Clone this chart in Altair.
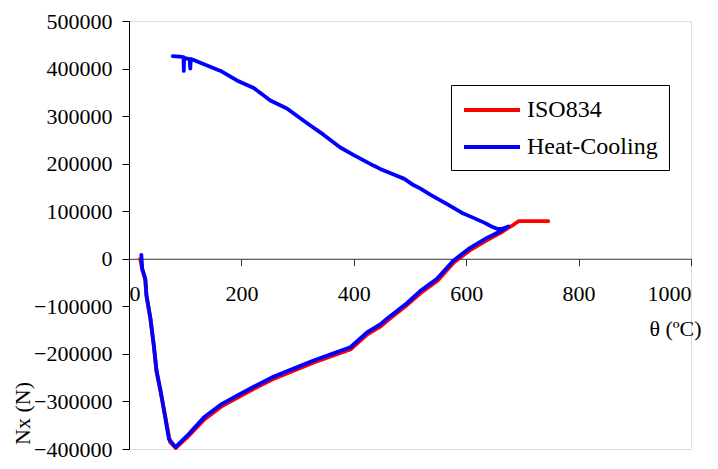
import altair as alt
import pandas as pd

# ---- data ----
iso_T = [20, 23.5, 29, 31, 38, 44, 49, 56, 63, 73, 83, 104, 134, 164, 199, 223, 258, 294,
         329, 365, 395, 424, 448, 460, 484, 495, 519, 549, 578, 608, 638, 662, 676, 684, 693, 746]
iso_N = [0, -22000, -44000, -78000, -126000, -182000, -238000, -279000, -322000, -385000,
         -398000, -375000, -338000, -311000, -288000, -273000, -252000, -235000, -218000,
         -203000, -190000, -159000, -142000, -130000, -107000, -97000, -72000, -46000, -8000,
         19000, 40000, 55000, 66000, 71500, 79000, 79000]

hc_T = [22, 23.5, 29, 31, 38, 44, 49, 56, 62, 71, 82.7, 103.5, 133, 163, 198, 222, 257, 293,
        328.5, 364, 394, 423.5, 447, 459, 483, 494.5, 518, 548, 577, 607, 637, 661, 675,
        664, 655, 645, 632, 613, 595, 566, 536, 518, 506, 490, 471, 447, 435, 400, 376, 346,
        317, 281, 251.5, 222, 192, 163, 127, 115, 110, 109, 108, 100, 98, 97.5, 97, 90, 78]
hc_N = [8000, -21000, -42000, -76000, -124000, -180000, -235000, -276000, -317000, -379000,
        -396000, -372000, -334000, -307000, -284000, -269000, -248000, -231000, -214000,
        -199000, -186000, -155000, -138000, -126000, -104000, -93500, -68000, -42000, -4000,
        23000, 44000, 58000, 68000,
        63000, 63000, 68000, 76000, 86000, 95000, 115000, 135000, 148000, 155000, 168000,
        177000, 189000, 196000, 218000, 234000, 261000, 285000, 316000, 333000, 359000,
        375000, 395000, 412000, 418000, 420000, 400000, 420000, 422000, 422000, 395000,
        424000, 425000, 426000]

series_names = ["ISO834", "Heat-Cooling"]
series_colors = ["#ff0000", "#0000ff"]
x_ticks = [0, 200, 400, 600, 800, 1000]
y_ticks = [-400000, -300000, -200000, -100000, 0, 100000, 200000, 300000, 400000, 500000]

rows = []
for i, (t, n) in enumerate(zip(iso_T, iso_N)):
    rows.append({"T": t, "N": n, "series": "ISO834", "i": i})
for i, (t, n) in enumerate(zip(hc_T, hc_N)):
    rows.append({"T": t, "N": n, "series": "Heat-Cooling", "i": i})
df = pd.DataFrame(rows)

FONT = "Liberation Serif, Times New Roman, DejaVu Serif, serif"
W, H = 562, 428
Y_MIN, Y_MAX = -400000, 500000
x_axis_offset = -H * (0 - Y_MIN) / (Y_MAX - Y_MIN)

color = alt.Color(
    "series:N",
    scale=alt.Scale(domain=series_names, range=series_colors),
    legend=alt.Legend(
        title=None, orient="none", legendX=322, legendY=64,
        strokeColor="black", fillColor="white", padding=11,
        symbolType="M-1,0L3.667,0", symbolSize=576, symbolStrokeWidth=4,
        labelFont=FONT, labelFontSize=24, labelColor="black", labelOffset=37,
        rowPadding=11, cornerRadius=0,
    ),
)

base = alt.Chart(df).mark_line(strokeWidth=3.8, strokeJoin="round", strokeCap="round").encode(
    x=alt.X("T:Q", scale=alt.Scale(domain=[0, 1000], nice=False),
            axis=alt.Axis(values=x_ticks, format="d", grid=False, offset=x_axis_offset,
                          domainColor="#333333", tickColor="#333333", tickSize=7,
                          labelFont=FONT, labelFontSize=22, labelColor="black", labelPadding=18,
                          labelOverlap=False,
                          title="θ (ºC)", titleFont=FONT, titleFontSize=22, titleFontWeight="normal",
                          titleColor="black", titleX=546, titleY=70, titleAlign="center",
                          titleBaseline="middle")),
    y=alt.Y("N:Q", scale=alt.Scale(domain=[Y_MIN, Y_MAX], nice=False),
            axis=alt.Axis(values=y_ticks, format="d", grid=False,
                          domainColor="black", tickColor="black", tickSize=7,
                          labelFont=FONT, labelFontSize=22, labelColor="black", labelPadding=10,
                          labelOverlap=False,
                          title="Nx (N)", titleFont=FONT, titleFontSize=22, titleFontWeight="normal",
                          titleColor="black", titleX=-107, titleY=392, titleAngle=270,
                          titleAlign="center", titleBaseline="middle")),
    color=color,
    order="i:Q",
)

red = base.transform_filter(alt.datum.series == "ISO834")
blue = base.transform_filter(alt.datum.series == "Heat-Cooling")

chart = alt.layer(red, blue).properties(
    width=W, height=H,
    padding={"left": 121, "top": 13, "right": 19, "bottom": 12},
    autosize=alt.AutoSizeParams(type="none"),
).configure_view(stroke=None).configure(background="white", font=FONT)

chart.save("out.html", embed_options={"renderer": "svg", "actions": False})
